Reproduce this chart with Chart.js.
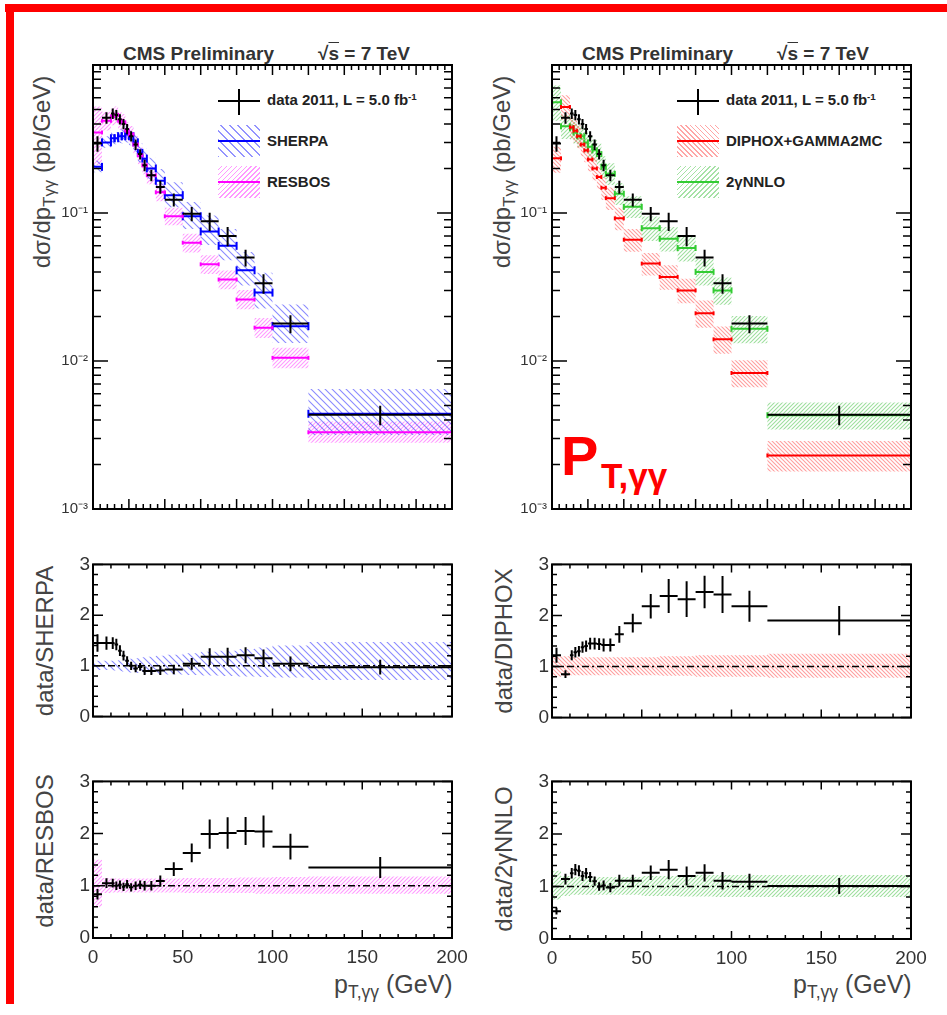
<!DOCTYPE html>
<html>
<head>
<meta charset="utf-8">
<script src="https://cdn.jsdelivr.net/npm/chart.js@4.4.0/dist/chart.umd.min.js"></script>
<style>
  body { margin: 0; background: #fff; width: 947px; height: 1015px; position: relative; overflow: hidden;
         font-family: "Liberation Sans", Arial, sans-serif; }
  canvas { position: absolute; }
  .txt { position: absolute; white-space: nowrap; line-height: 1; color: #222; }
  .rot { transform: translate(-50%, -50%) rotate(-90deg); }
  .cms { font-size: 19px; font-weight: bold; color: #333; }
  .leg { font-size: 15px; font-weight: bold; color: #222; }
  .ytitle { font-size: 24px; color: #444; }
  .xtitle { font-size: 25px; color: #444; }
  sub { font-size: 70%; vertical-align: -0.3em; }
  sup { font-size: 65%; vertical-align: 0.5em; }
  .sym { position: absolute; width: 42px; height: 32px; }
  .sym .ln { position: absolute; left: 0; right: 0; top: 15px; height: 2px; }
  .red { position: absolute; background: #f00; }
</style>
</head>
<body>

<div class="red" style="left:5px;top:4px;width:942px;height:8px"></div>
<div class="red" style="left:6px;top:4px;width:8px;height:1000px"></div>

<!-- titles -->
<div class="txt cms" style="left:123px;top:44px">CMS Preliminary</div>
<div class="txt cms" style="left:318px;top:44px">√<span style="text-decoration:overline">s</span> = 7 TeV</div>
<div class="txt cms" style="left:582px;top:44px">CMS Preliminary</div>
<div class="txt cms" style="left:777px;top:44px">√<span style="text-decoration:overline">s</span> = 7 TeV</div>

<!-- y titles -->
<div class="txt ytitle rot" style="left:44px;top:172px">dσ/dp<sub>Tγγ</sub> (pb/GeV)</div>
<div class="txt ytitle rot" style="left:504px;top:172px">dσ/dp<sub>Tγγ</sub> (pb/GeV)</div>
<div class="txt ytitle rot" style="left:45px;top:641px">data/SHERPA</div>
<div class="txt ytitle rot" style="left:504px;top:641px">data/DIPHOX</div>
<div class="txt ytitle rot" style="left:45px;top:851px">data/RESBOS</div>
<div class="txt ytitle rot" style="left:504px;top:859px">data/2γNNLO</div>

<!-- x titles -->
<div class="txt xtitle" style="left:334px;top:972px">p<sub>T,γγ</sub> (GeV)</div>
<div class="txt xtitle" style="left:793px;top:972px">p<sub>T,γγ</sub> (GeV)</div>

<!-- legends -->
<div class="sym" style="left:218px;top:85px">
  <div class="ln" style="background:#000"></div>
  <div style="position:absolute;left:20px;width:2px;top:4px;height:26px;background:#000"></div>
</div>
<div class="txt leg" style="left:267px;top:92px">data 2011, L = 5.0 fb<sup>-1</sup></div>
<div class="sym" style="left:218px;top:125px;background:repeating-linear-gradient(45deg, rgba(60,60,255,0.55) 0 1.3px, transparent 1.3px 6px)">
  <div class="ln" style="background:#0000ff"></div>
</div>
<div class="txt leg" style="left:267px;top:133px">SHERPA</div>
<div class="sym" style="left:218px;top:166px;background:repeating-linear-gradient(-45deg, rgba(255,0,255,0.4) 0 1px, transparent 1px 3.5px)">
  <div class="ln" style="background:#ff00ff"></div>
</div>
<div class="txt leg" style="left:267px;top:174px">RESBOS</div>

<div class="sym" style="left:677px;top:85px">
  <div class="ln" style="background:#000"></div>
  <div style="position:absolute;left:20px;width:2px;top:4px;height:26px;background:#000"></div>
</div>
<div class="txt leg" style="left:726px;top:92px">data 2011, L = 5.0 fb<sup>-1</sup></div>
<div class="sym" style="left:677px;top:125px;background:repeating-linear-gradient(45deg, rgba(255,0,0,0.35) 0 1px, transparent 1px 3.5px)">
  <div class="ln" style="background:#ff0000"></div>
</div>
<div class="txt leg" style="left:726px;top:133px">DIPHOX+GAMMA2MC</div>
<div class="sym" style="left:677px;top:166px;background:repeating-linear-gradient(-45deg, rgba(0,170,0,0.35) 0 1px, transparent 1px 3.5px)">
  <div class="ln" style="background:#33cc33"></div>
</div>
<div class="txt leg" style="left:726px;top:174px">2γNNLO</div>

<!-- red label -->
<div class="txt" style="left:561px;top:428px;font-size:56px;font-weight:bold;color:#f00">P</div>
<div class="txt" style="left:601px;top:458px;font-size:35px;font-weight:bold;color:#f00">T,γγ</div>

<script>
// bins in p_T,gg (GeV)
const binEdges = [0, 5, 10, 12, 14, 16, 18, 20, 22.5, 25, 27.5, 30, 35, 40, 50, 60, 70, 80, 90, 100, 120, 200];

// cross sections (pb/GeV)
const dataXsec   = [0.295, 0.44, 0.47, 0.46, 0.43, 0.40, 0.37, 0.33, 0.29, 0.25, 0.21, 0.18, 0.15, 0.123, 0.099, 0.088, 0.070, 0.050, 0.0335, 0.0179, 0.00433];
const dataRelErr = [0.12, 0.09, 0.08, 0.08, 0.08, 0.08, 0.08, 0.08, 0.08, 0.08, 0.09, 0.09, 0.10, 0.10, 0.11, 0.14, 0.15, 0.13, 0.15, 0.14, 0.15];
const sherpaXsec = [0.205, 0.30, 0.32, 0.32, 0.33, 0.33, 0.34, 0.33, 0.30, 0.255, 0.233, 0.20, 0.165, 0.132, 0.095, 0.075, 0.060, 0.041, 0.029, 0.0172, 0.0044];
const resbosXsec = [0.35, 0.42, 0.45, 0.46, 0.42, 0.41, 0.36, 0.34, 0.29, 0.245, 0.21, 0.18, 0.138, 0.095, 0.063, 0.045, 0.0355, 0.026, 0.0168, 0.0105, 0.0033];
const diphoxXsec = [0.234, 0.52, 0.38, 0.36, 0.33, 0.29, 0.265, 0.23, 0.20, 0.175, 0.148, 0.126, 0.092, 0.066, 0.0455, 0.037, 0.030, 0.021, 0.014, 0.0083, 0.0023];
const nnloXsec   = [0.56, 0.385, 0.375, 0.35, 0.33, 0.33, 0.30, 0.28, 0.265, 0.25, 0.205, 0.184, 0.135, 0.11, 0.079, 0.067, 0.058, 0.040, 0.030, 0.0165, 0.0043];

// theory uncertainty bands (relative to the prediction)
const sherpaBandHi = [1.10, 1.10, 1.10, 1.10, 1.11, 1.12, 1.13, 1.14, 1.15, 1.16, 1.17, 1.18, 1.20, 1.22, 1.25, 1.28, 1.30, 1.33, 1.36, 1.40, 1.47];
const sherpaBandLo = [0.92, 0.92, 0.91, 0.91, 0.90, 0.89, 0.88, 0.87, 0.86, 0.86, 0.85, 0.85, 0.84, 0.83, 0.82, 0.81, 0.80, 0.79, 0.78, 0.77, 0.72];
const resbosBandHi = [1.50, 1.15, 1.14, 1.14, 1.14, 1.14, 1.14, 1.14, 1.14, 1.14, 1.14, 1.14, 1.14, 1.14, 1.15, 1.15, 1.15, 1.16, 1.16, 1.17, 1.18];
const resbosBandLo = [0.60, 0.86, 0.87, 0.87, 0.87, 0.87, 0.87, 0.87, 0.87, 0.87, 0.87, 0.87, 0.87, 0.87, 0.86, 0.86, 0.86, 0.86, 0.85, 0.85, 0.85];
const diphoxBandHi = [1.20, 1.20, 1.18, 1.18, 1.18, 1.18, 1.18, 1.18, 1.18, 1.18, 1.18, 1.18, 1.18, 1.18, 1.18, 1.20, 1.20, 1.22, 1.22, 1.22, 1.25];
const diphoxBandLo = [0.80, 0.82, 0.83, 0.83, 0.83, 0.83, 0.83, 0.83, 0.83, 0.83, 0.83, 0.83, 0.83, 0.83, 0.83, 0.82, 0.82, 0.80, 0.80, 0.80, 0.78];
const nnloBandHi   = [1.30, 1.20, 1.18, 1.18, 1.18, 1.18, 1.18, 1.18, 1.18, 1.18, 1.18, 1.18, 1.18, 1.18, 1.20, 1.20, 1.22, 1.22, 1.22, 1.22, 1.22];
const nnloBandLo   = [0.75, 0.82, 0.84, 0.84, 0.84, 0.84, 0.84, 0.84, 0.84, 0.84, 0.84, 0.84, 0.84, 0.84, 0.82, 0.82, 0.81, 0.81, 0.80, 0.80, 0.80];

// data / theory ratios
const ratioSherpa = [1.45, 1.45, 1.45, 1.42, 1.30, 1.20, 1.10, 1.00, 0.95, 0.98, 0.90, 0.90, 0.91, 0.93, 1.04, 1.18, 1.18, 1.21, 1.15, 1.04, 0.975];
const ratioResbos = [0.84, 1.05, 1.05, 1.00, 1.02, 0.98, 1.03, 0.97, 1.00, 1.02, 1.00, 1.00, 1.09, 1.32, 1.63, 1.99, 2.01, 2.05, 2.04, 1.75, 1.35];
const ratioDiphox = [1.22, 0.85, 1.22, 1.28, 1.30, 1.38, 1.40, 1.45, 1.45, 1.44, 1.42, 1.42, 1.63, 1.85, 2.18, 2.38, 2.32, 2.46, 2.41, 2.18, 1.90];
const ratioNnlo   = [0.53, 1.14, 1.25, 1.32, 1.30, 1.20, 1.25, 1.18, 1.10, 1.00, 1.02, 0.98, 1.11, 1.11, 1.26, 1.32, 1.20, 1.26, 1.11, 1.09, 1.01];

// tick labels
const xTickLabels = [0, 50, 100, 150, 200];
const logTickLabels = [-3, -2, -1];
const ratioTickLabels = [0, 1, 2, 3];

const FONT = '"Liberation Sans", Arial, sans-serif';
const SUP = { '-': '⁻', '1': '¹', '2': '²', '3': '³' };

function hatch(color, step, dir) {
  const c = document.createElement('canvas');
  c.width = step; c.height = step;
  const g = c.getContext('2d');
  g.strokeStyle = color;
  g.lineWidth = 1.1;
  g.beginPath();
  if (dir > 0) { // "/"
    g.moveTo(0, step); g.lineTo(step, 0);
    g.moveTo(-1, 1); g.lineTo(1, -1);
    g.moveTo(step - 1, step + 1); g.lineTo(step + 1, step - 1);
  } else { // "\"
    g.moveTo(0, 0); g.lineTo(step, step);
    g.moveTo(-1, step - 1); g.lineTo(1, step + 1);
    g.moveTo(step - 1, -1); g.lineTo(step + 1, 1);
  }
  g.stroke();
  return g.createPattern(c, 'repeat');
}

const blueHatch = hatch('rgba(60,60,255,0.6)', 7, -1);
const magHatch = hatch('rgba(255,0,255,0.4)', 4, 1);
const redHatch = hatch('rgba(255,0,0,0.38)', 4, -1);
const greenHatch = hatch('rgba(0,170,0,0.38)', 4, 1);

function stepPts(base, mult) {
  var pts = [];
  for (var i = 0; i < mult.length; i++) {
    var y = (base ? base[i] : 1) * mult[i];
    pts.push({ x: binEdges[i], y: y }, { x: binEdges[i + 1], y: y });
  }
  return pts;
}
function hSeg(vals) {
  var pts = [];
  for (var i = 0; i < vals.length; i++) {
    pts.push({ x: binEdges[i], y: vals[i] }, { x: binEdges[i + 1], y: vals[i] }, { x: binEdges[i + 1], y: null });
  }
  return pts;
}
function vSeg(vals, rel) {
  var pts = [];
  for (var i = 0; i < vals.length; i++) {
    var c = (binEdges[i] + binEdges[i + 1]) / 2;
    var e = vals[i] * rel[i];
    pts.push({ x: c, y: vals[i] - e }, { x: c, y: vals[i] + e }, { x: c, y: null });
  }
  return pts;
}

function band(base, hi, lo, pattern) {
  return [
    { data: stepPts(base, hi), borderWidth: 0, borderColor: 'rgba(0,0,0,0)', backgroundColor: pattern, fill: '+1', pointRadius: 0, order: 3 },
    { data: stepPts(base, lo), borderWidth: 0, borderColor: 'rgba(0,0,0,0)', fill: false, pointRadius: 0, order: 3 }
  ];
}
function modelLine(vals, color, cap) {
  return { data: hSeg(vals), borderColor: color, borderWidth: 2, fill: false, order: 2,
           pointRadius: cap, pointStyle: 'line', rotation: 90, pointBorderColor: color, pointBorderWidth: 2 };
}
function dataLines(vals, rel) {
  return [
    { data: hSeg(vals), borderColor: '#000', borderWidth: 2, fill: false, pointRadius: 0, order: 1 },
    { data: vSeg(vals, rel), borderColor: '#000', borderWidth: 2, fill: false, pointRadius: 0, order: 1 }
  ];
}
function unityLine() {
  return { data: [{ x: 0, y: 1 }, { x: 200, y: 1 }], borderColor: '#000', borderWidth: 1.5,
           borderDash: [7, 3, 2, 3], fill: false, pointRadius: 0, order: 1.5 };
}

// ROOT-like frame with inward ticks on all sides
const rootFrame = {
  id: 'rootFrame',
  afterDatasetsDraw(chart, args, o) {
    const ctx = chart.ctx, a = chart.chartArea;
    const xs = chart.scales.x, ys = chart.scales.y;
    ctx.save();
    ctx.strokeStyle = '#000';
    ctx.lineWidth = 1.5;
    ctx.beginPath();
    function xt(list, len) {
      list.forEach(function (v) {
        const p = xs.getPixelForValue(v);
        ctx.moveTo(p, a.bottom); ctx.lineTo(p, a.bottom - len);
        ctx.moveTo(p, a.top); ctx.lineTo(p, a.top + len);
      });
    }
    function yt(list, len) {
      list.forEach(function (v) {
        const p = ys.getPixelForValue(v);
        ctx.moveTo(a.left, p); ctx.lineTo(a.left + len, p);
        ctx.moveTo(a.right, p); ctx.lineTo(a.right - len, p);
      });
    }
    xt(o.xMinor, o.xMinLen); xt(o.xMajor, o.xMajLen);
    yt(o.yMinor, o.yMinLen); yt(o.yMajor, o.yMajLen);
    ctx.stroke();
    ctx.lineWidth = 2;
    ctx.strokeRect(a.left, a.top, a.right - a.left, a.bottom - a.top);
    ctx.restore();
  }
};

function range(a, b, s) { var r = []; for (var v = a; v <= b + 1e-9; v += s) r.push(v); return r; }
const logMajor = [0.001, 0.01, 0.1, 1];
const logMinor = [];
[-3, -2, -1].forEach(function (d) { for (var k = 2; k <= 9; k++) logMinor.push(k * Math.pow(10, d)); });

function makePanel(fx, fy, fh, isMain, xLabels, datasets) {
  const padL = 50, padT = 12, padR = 24, bottomH = xLabels ? 36 : 10;
  const cv = document.createElement('canvas');
  const w = padL + 359 + padR, h = padT + fh + bottomH;
  cv.width = w; cv.height = h;
  cv.style.left = (fx - padL) + 'px';
  cv.style.top = (fy - padT) + 'px';
  cv.style.width = w + 'px'; cv.style.height = h + 'px';
  document.body.appendChild(cv);

  const yScale = isMain ? {
    type: 'logarithmic', min: 0.001, max: 1,
    grid: { display: false, drawTicks: false }, border: { display: false },
    ticks: {
      autoSkip: false, color: '#333', padding: 5, font: { family: FONT, size: 15 },
      callback: function (v) {
        const l = Math.log10(v), r = Math.round(l);
        if (Math.abs(l - r) < 1e-6 && logTickLabels.includes(r)) {
          return '10' + String(r).split('').map(function (ch) { return SUP[ch]; }).join('');
        }
        return '';
      }
    },
    afterFit: function (s) { s.width = padL; }
  } : {
    type: 'linear', min: 0, max: 3,
    grid: { display: false, drawTicks: false }, border: { display: false },
    ticks: {
      stepSize: 1, autoSkip: false, color: '#333', padding: 3, font: { family: FONT, size: 19 },
      callback: function (v) { return ratioTickLabels.includes(v) ? String(v) : ''; }
    },
    afterFit: function (s) { s.width = padL; }
  };

  new Chart(cv.getContext('2d'), {
    type: 'line',
    data: { datasets: datasets },
    options: {
      responsive: false, animation: false, devicePixelRatio: 1,
      layout: { padding: { left: 0, top: padT, right: padR, bottom: 0 } },
      plugins: {
        legend: { display: false }, tooltip: { enabled: false },
        rootFrame: isMain ? {
          xMajor: range(0, 200, 20), xMinor: range(0, 200, 4), xMajLen: 10, xMinLen: 5,
          yMajor: logMajor, yMinor: logMinor, yMajLen: 15, yMinLen: 8
        } : {
          xMajor: range(0, 200, 50), xMinor: range(0, 200, 10), xMajLen: 8, xMinLen: 4,
          yMajor: range(0, 3, 1), yMinor: range(0, 3, 0.2), yMajLen: 10, yMinLen: 5
        }
      },
      scales: {
        x: {
          type: 'linear', min: 0, max: 200,
          grid: { display: false, drawTicks: false }, border: { display: false },
          ticks: {
            display: xLabels, stepSize: 50, autoSkip: false, maxRotation: 0, color: '#333',
            padding: 8, font: { family: FONT, size: 19 },
            callback: function (v) { return xTickLabels.includes(v) ? String(v) : ''; }
          },
          afterFit: function (s) { s.height = bottomH; }
        },
        y: yScale
      }
    },
    plugins: [rootFrame]
  });
}

// left main: data vs SHERPA & RESBOS
makePanel(93, 63, 450, true, false, [].concat(
  band(sherpaXsec, sherpaBandHi, sherpaBandLo, blueHatch),
  band(resbosXsec, resbosBandHi, resbosBandLo, magHatch),
  [modelLine(resbosXsec, '#ff00ff', 2), modelLine(sherpaXsec, '#0000ff', 4)],
  dataLines(dataXsec, dataRelErr)
));

// right main: data vs DIPHOX & 2gNNLO
makePanel(552, 63, 450, true, false, [].concat(
  band(diphoxXsec, diphoxBandHi, diphoxBandLo, redHatch),
  band(nnloXsec, nnloBandHi, nnloBandLo, greenHatch),
  [modelLine(diphoxXsec, '#ff0000', 2), modelLine(nnloXsec, '#33cc33', 3)],
  dataLines(dataXsec, dataRelErr)
));

// ratio panels
makePanel(93, 562, 159, false, false, [].concat(
  band(null, sherpaBandHi, sherpaBandLo, blueHatch), [unityLine()], dataLines(ratioSherpa, dataRelErr)));
makePanel(552, 562, 160, false, false, [].concat(
  band(null, diphoxBandHi, diphoxBandLo, redHatch), [unityLine()], dataLines(ratioDiphox, dataRelErr)));
makePanel(93, 779, 159, false, true, [].concat(
  band(null, resbosBandHi, resbosBandLo, magHatch), [unityLine()], dataLines(ratioResbos, dataRelErr)));
makePanel(552, 779, 160, false, true, [].concat(
  band(null, nnloBandHi, nnloBandLo, greenHatch), [unityLine()], dataLines(ratioNnlo, dataRelErr)));
</script>
</body>
</html>
